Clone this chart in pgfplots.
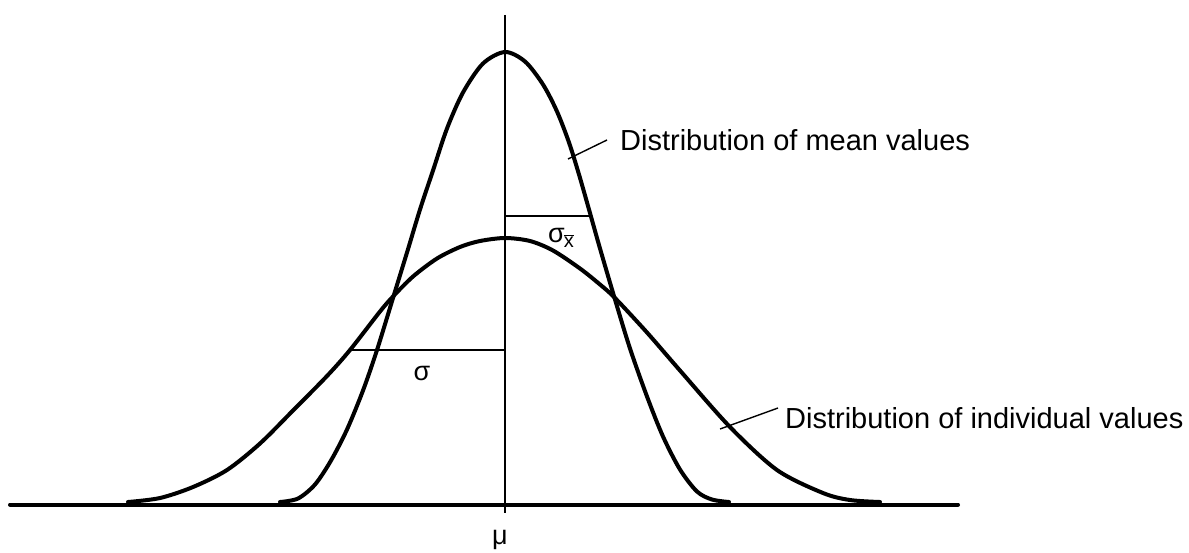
\documentclass[border=0pt]{standalone}
\usepackage{fontspec}
\setmainfont{Liberation Sans}
\usepackage{pgfplots}
\pgfplotsset{compat=1.18}

% Shape of the distribution of mean values (x relative to mu, height above baseline)
\pgfplotstableread{
x y
-225 2.5
-207 6
-190 20
-174 44
-158 75
-142 114
-128 154.5
-112 206.5
-98 252
-85 295
-72 334
-58 376
-42 412
-22 441
0 452.5
20 443
38 420
52 393
64 362
74 330
84 295
95 256
110 205
125 156
142 108
158 68
175 35
192 13
207 5
224 2.5
}\meancurve

% Shape of the distribution of individual values
\pgfplotstableread{
x y
-377 2.5
-345 6.5
-312 17.5
-278 34.5
-245 61
-212 94
-178 128.5
-155 154.5
-125 193
-112 208
-92 228
-68 246
-45 257.5
-25 263.5
0 266.5
25 263.5
48 254
75 236
95 220
110 206.5
142 172
175 134
225 77.5
272 34.5
318 11.5
345 4.5
375 2.5
}\indivcurve

\begin{document}
\begin{tikzpicture}
\begin{axis}[
  scale only axis,
  width=1189bp, height=547bp,
  xmin=-505, xmax=684,
  ymin=-42.5, ymax=504.5,
  hide axis,
  clip=false,
]
\path (rel axis cs:0,0) rectangle (rel axis cs:1,1);

% baseline and centre line
\addplot[black, line width=4bp, line cap=round] coordinates {(-495,0) (453,0)};
\addplot[black, line width=1.8bp] coordinates {(0,489.5) (0,-8.5)};

% the two curves
\addplot[black, line width=4bp, smooth, line cap=round] table {\meancurve};
\addplot[black, line width=4bp, smooth, line cap=round] table {\indivcurve};

% standard deviation markers
\addplot[black, line width=1.4bp] coordinates {(-155,154.5) (0,154.5)};
\addplot[black, line width=1.4bp] coordinates {(0,288.5) (85,288.5)};
\node[font=\fontsize{27bp}{30bp}\selectfont] at (axis cs:-83,131.5) {σ};
\node[font=\fontsize{27bp}{30bp}\selectfont, inner sep=0pt] at (axis cs:56,266.5)
  {σ\kern-1bp\raisebox{-5bp}{\fontsize{20bp}{22bp}\selectfont$\overline{\hbox{x}}$}};

% leader lines and labels
\addplot[black, line width=1.4bp] coordinates {(63,345.5) (102,364.5)};
\addplot[black, line width=1.4bp] coordinates {(215,75.5) (273,96.5)};
\node[anchor=base west, inner sep=0pt, font=\fontsize{29bp}{33bp}\selectfont]
  at (axis cs:115,354.5) {Distribution of mean values};
\node[anchor=base west, inner sep=0pt, font=\fontsize{29bp}{33bp}\selectfont]
  at (axis cs:280,76.5) {Distribution of individual values};

\node[font=\fontsize{27bp}{30bp}\selectfont] at (axis cs:-5,-35) {μ};
\end{axis}
\end{tikzpicture}
\end{document}
